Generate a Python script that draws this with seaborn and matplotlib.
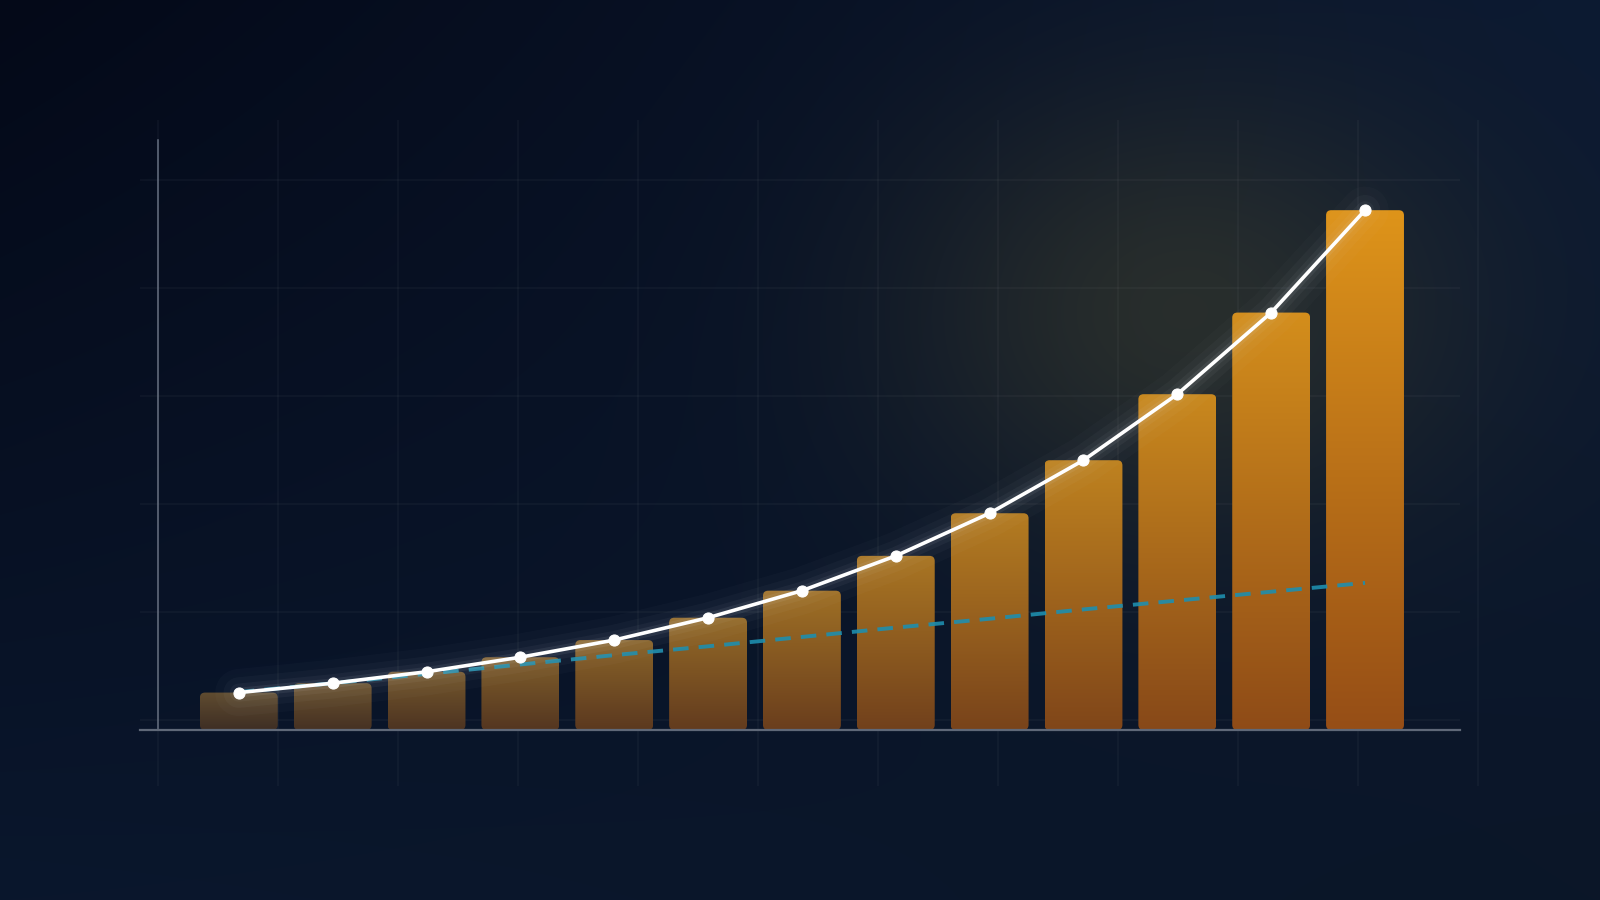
import numpy as np
import matplotlib
matplotlib.use("Agg")
import matplotlib.pyplot as plt
import seaborn as sns
from matplotlib.patches import FancyBboxPatch

# ---------------- data ----------------
categories = ["1", "2", "3", "4", "5", "6", "7", "8", "9", "10", "11", "12", "13"]
bar_values = [7.2, 9.0, 11.2, 14.0, 17.3, 21.6, 26.8, 33.5, 41.7, 51.9, 64.6, 80.3, 100.0]
line_values = [7.2, 9.0, 11.2, 14.0, 17.3, 21.6, 26.8, 33.5, 41.7, 51.9, 64.6, 80.3, 100.0]
trend_values = [7.3, 9.0, 10.8, 12.6, 14.4, 16.1, 17.9, 19.7, 21.4, 23.2, 24.9, 26.6, 28.3]

W, H = 1600, 900
sns.set_style("white")
fig = plt.figure(figsize=(16, 9), dpi=100)

# ---------------- background ----------------
yy, xx = np.mgrid[0:H, 0:W]
u = xx / W
v = yy / H
TL = np.array([4, 9, 24]); TR = np.array([12, 26, 50])
BL = np.array([10, 23, 45]); BR = np.array([11, 22, 40])
img = (TL[None, None] * ((1 - u) * (1 - v))[..., None] + TR[None, None] * (u * (1 - v))[..., None]
       + BL[None, None] * ((1 - u) * v)[..., None] + BR[None, None] * (u * v)[..., None])
glow = np.exp(-(((xx - 1180) / 280.0) ** 2 + ((yy - 310) / 220.0) ** 2))
img = img + glow[..., None] * np.array([30, 24, 2])[None, None]
img = np.clip(img / 255.0, 0, 1)

bg = fig.add_axes([0, 0, 1, 1], zorder=0)
bg.imshow(img, extent=[0, W, H, 0], aspect="auto", interpolation="bilinear")
bg.set_xlim(0, W)
bg.set_ylim(H, 0)
bg.axis("off")
for gx in np.arange(158, 1481, 120):
    bg.vlines(gx, 120, 786, color="white", alpha=0.035, lw=1.2)
for gy in np.arange(180, 721, 108):
    bg.hlines(gy, 140, 1460, color="white", alpha=0.04, lw=1.2)

# ---------------- main axes ----------------
ax = fig.add_axes([140 / W, 170 / H, 1320 / W, 590 / H], zorder=1)
ax.set_facecolor("none")

sns.barplot(x=categories, y=bar_values, ax=ax, width=0.83, color="#d08a1c", saturation=1)
ax.set_xlim(-1.053, 13.012)
ax.set_ylim(0, 113.5)

# rounded, gradient-filled bars
fig.canvas.draw()
p0 = ax.transData.transform((0, 0))
p1 = ax.transData.transform((1, 1))
aspect = (p1[0] - p0[0]) / (p1[1] - p0[1])

dim_top = np.array([96, 76, 48]) / 255
dim_bot = np.array([62, 46, 36]) / 255
bri_top = np.array([222, 148, 26]) / 255
bri_bot = np.array([150, 78, 22]) / 255

bars = list(ax.patches)
n = len(bars)
for i, p in enumerate(bars):
    x0, y0 = p.get_x(), p.get_y()
    w, h = p.get_width(), p.get_height()
    p.set_visible(False)
    t = i / (n - 1)
    ctop = dim_top * (1 - t) + bri_top * t
    cbot = dim_bot * (1 - t) + bri_bot * t
    s = np.linspace(0, 1, 128)[:, None]
    grad = ctop[None, :] * (1 - s) + cbot[None, :] * s
    grad = grad[:, None, :]
    fb = FancyBboxPatch((x0, y0), w, h, boxstyle="round,pad=0,rounding_size=0.055",
                        mutation_aspect=aspect, facecolor="none", edgecolor="none",
                        transform=ax.transData, zorder=2)
    ax.add_patch(fb)
    im = ax.imshow(grad, extent=(x0, x0 + w, y0, y0 + h), origin="upper",
                   aspect="auto", zorder=2, interpolation="bilinear")
    im.set_clip_path(fb)

ax.set_xlim(-1.053, 13.012)
ax.set_ylim(0, 113.5)

pos = np.arange(len(categories))

# dashed trend line
sns.lineplot(x=pos, y=trend_values, ax=ax, color="#1e8eae", lw=2.8, alpha=0.9, zorder=3)
ax.lines[-1].set_dashes([4.0, 2.6])

# glow behind white line
for lw, a in [(34, 0.02), (22, 0.03), (13, 0.045), (7, 0.07)]:
    ax.plot(pos, line_values, color="#e8eef8", lw=lw, alpha=a, zorder=4,
            solid_capstyle="round", solid_joinstyle="round")

sns.lineplot(x=pos, y=line_values, ax=ax, color="white", lw=2.6, zorder=5,
             marker="o", markersize=8, markeredgecolor="white", markerfacecolor="white")

# axes styling
for side in ["top", "right"]:
    ax.spines[side].set_visible(False)
ax.spines["bottom"].set_color("#5f6878")
ax.spines["bottom"].set_linewidth(1.6)
ax.spines["bottom"].set_zorder(6)
ax.spines["left"].set_color("#666f80")
ax.spines["left"].set_linewidth(1.1)
ax.spines["left"].set_position(("axes", 18 / 1320))
ax.tick_params(length=0, labelbottom=False, labelleft=False)
ax.set_xlabel("")
ax.set_ylabel("")
ax.grid(False)

fig.savefig("out.png", dpi=100)
